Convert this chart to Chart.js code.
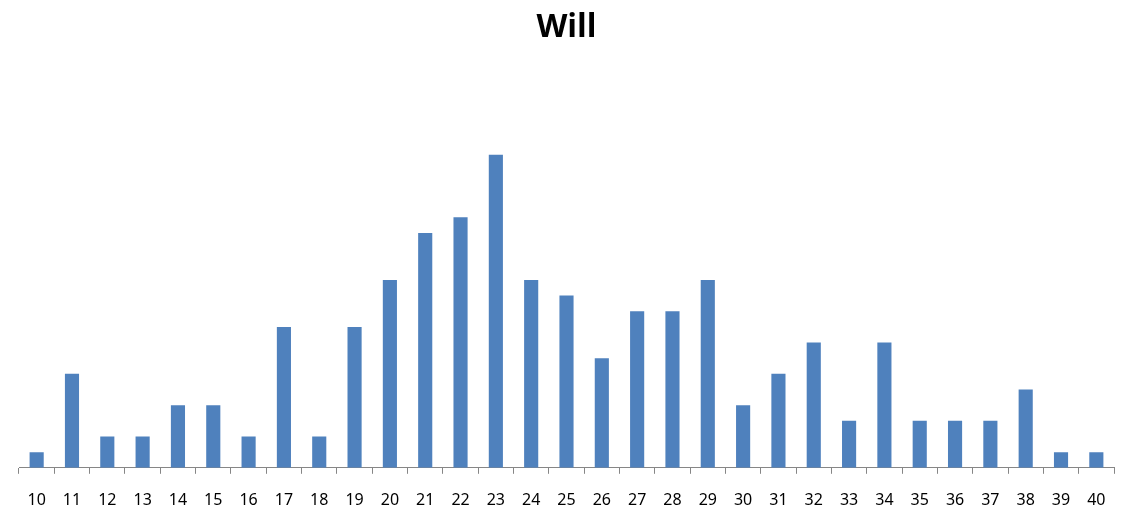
<!DOCTYPE html>
<html>
<head>
<meta charset="utf-8">
<script src="https://cdn.jsdelivr.net/npm/chart.js@4"></script>
<style>
  body { margin:0; background:#fff; }
  #wrap { width:1134px; height:529px; }
</style>
</head>
<body>
<div id="wrap"><canvas id="willChart" width="1134" height="529"></canvas></div>
<script>
// categories on the x axis
const ages = ['10','11','12','13','14','15','16','17','18','19','20','21','22','23','24','25',
              '26','27','28','29','30','31','32','33','34','35','36','37','38','39','40'];
// bar heights
const counts = [1,6,2,2,4,4,2,9,2,9,12,15,16,20,12,11,7,10,10,12,4,6,8,3,8,3,3,3,5,1,1];

const ctx = document.getElementById('willChart').getContext('2d');
const chart = new Chart(ctx, {
  type: 'bar',
  data: {
    labels: ages,
    datasets: [{
      label: 'Will',
      data: counts,
      backgroundColor: '#4F81BD',
      categoryPercentage: 1,
      barPercentage: 0.4
    }]
  },
  options: {
    responsive: false,
    animation: false,
    layout: { padding: { left: 19, right: 20, top: 0, bottom: 2 } },
    plugins: {
      legend: { display: false },
      tooltip: { enabled: false },
      title: {
        display: true,
        text: 'Will',
        color: '#000',
        font: { family: "'Open Sans', 'Noto Sans', sans-serif", size: 32, weight: 'bold' },
        padding: { top: 9, bottom: 29 }
      }
    },
    scales: {
      x: {
        grid: { display: true, drawOnChartArea: false, tickLength: 6, color: '#868686' },
        border: { color: '#868686' },
        ticks: {
          color: '#000',
          padding: 17,
          maxRotation: 0,
          autoSkip: false,
          font: { family: "'Noto Sans', sans-serif", size: 16 }
        }
      },
      y: {
        display: false,
        min: 0,
        max: 25
      }
    }
  }
});
</script>
</body>
</html>
